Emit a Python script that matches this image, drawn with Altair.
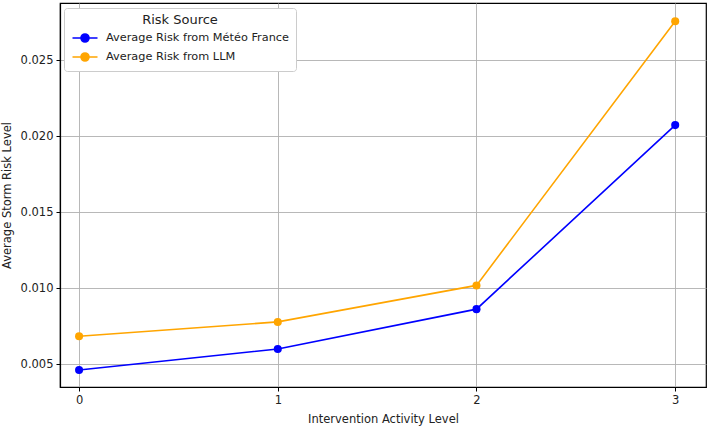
import altair as alt
import pandas as pd

levels = [0, 1, 2, 3]
meteo = [0.00462, 0.00600, 0.00862, 0.02072]
llm = [0.00684, 0.00778, 0.01018, 0.02755]
series_names = ["Average Risk from Météo France", "Average Risk from LLM"]
colors = ["#0000ff", "#ffa500"]

rows = []
for name, vals in zip(series_names, [meteo, llm]):
    for x, v in zip(levels, vals):
        rows.append({"level": x, "risk": v, "source": name})
df = pd.DataFrame(rows)

FONT = "DejaVu Sans"

chart = alt.Chart(df).mark_line(
    strokeWidth=1.6,
    point=alt.OverlayMarkDef(filled=True, size=65, opacity=1),
).encode(
    x=alt.X("level:Q",
            scale=alt.Scale(domain=[-0.096, 3.155], nice=False, zero=False),
            axis=alt.Axis(values=levels, format="d", title="Intervention Activity Level")),
    y=alt.Y("risk:Q",
            scale=alt.Scale(domain=[0.0035, 0.02875], nice=False, zero=False),
            axis=alt.Axis(values=[0.005, 0.010, 0.015, 0.020, 0.025], format=".3f",
                          title="Average Storm Risk Level")),
    color=alt.Color("source:N",
                    scale=alt.Scale(domain=series_names, range=colors),
                    legend=alt.Legend(
                        title="Risk Source",
                        orient="none", legendX=4, legendY=5,
                        symbolType="M-2.5,0H2.5M-0.8,0A0.8,0.8 0 1,0 0.8,0A0.8,0.8 0 1,0 -0.8,0Z",
                        symbolSize=100, symbolStrokeWidth=1.6, symbolOffset=9,
                        labelOffset=15,
                        titleFont=FONT, titleFontSize=13, titleFontWeight="normal",
                        titleColor="#222", titleAnchor="middle", titleAlign="center",
                        labelFont=FONT, labelFontSize=11.3, labelColor="#222", labelLimit=0,
                        fillColor="white", strokeColor="#cccccc", cornerRadius=3,
                        padding=6, rowPadding=3, offset=0)),
).properties(
    width=646, height=384,
    autosize=alt.AutoSizeParams(type="none"),
    padding={"left": 60, "top": 3, "right": 2, "bottom": 39},
).configure_view(
    stroke="black", strokeWidth=1.2
).configure_axis(
    labelFont=FONT, titleFont=FONT, labelFontSize=11.5, titleFontSize=11.5,
    titleFontWeight="normal", labelColor="#222", titleColor="#222",
    gridColor="#b0b0b0", gridWidth=0.9, domainColor="black", domainWidth=1.2,
    tickColor="black", tickSize=4, labelPadding=3,
).configure_axisX(titlePadding=8).configure_axisY(titlePadding=8)

chart.save("out.html", embed_options={"renderer": "svg", "actions": False})
